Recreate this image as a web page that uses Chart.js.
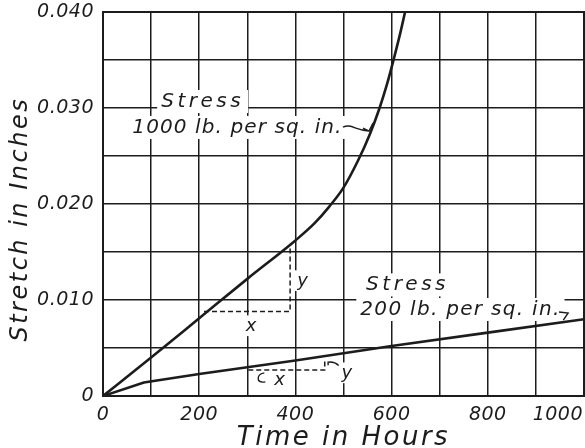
<!DOCTYPE html>
<html>
<head>
<meta charset="utf-8">
<script src="https://cdn.jsdelivr.net/npm/chart.js@4.4.1/dist/chart.umd.min.js"></script>
<style>
  html, body { margin: 0; background: #fff; }
  #wrap { width: 585px; height: 448px; }
</style>
</head>
<body>
<div id="wrap"><canvas id="mychart"></canvas></div>
<script>
// Stretch (inches) against time (hours)
var hours1000 = [0, 100, 200, 300, 400, 440, 470, 500, 530, 555, 575, 590, 605, 618, 628];
var stretch1000 = [0, 0.0040, 0.0081, 0.0122, 0.0162, 0.0180, 0.0197, 0.0217, 0.0245, 0.0273, 0.0300, 0.0324, 0.0352, 0.0378, 0.0400];
var hours200 = [0, 85, 200, 400, 600, 800, 1000];
var stretch200 = [0, 0.0014, 0.0023, 0.0037, 0.0052, 0.0066, 0.0080];

// dashed slope triangles (x leg then y leg)
var tri1000Hours = [210, 389, 389];
var tri1000Stretch = [0.0088, 0.0088, 0.0157];
var tri200Hours = [302, 461, 461];
var tri200Stretch = [0.0027, 0.0027, 0.0039];

var xTicks = [0, 200, 400, 600, 800, 1000];
var yTicks = [0, 0.010, 0.020, 0.030, 0.040];

var ink = '#1c1c1c';
var hand = "'DejaVu Sans', sans-serif";

function pts(xs, ys) {
  return xs.map(function (x, i) { return {x: x, y: ys[i]}; });
}

// handwritten notes on the plot, placed in data units
var notes = [
  {text: 'Stress', h: 121, s: 0.0301, ls: 3.5},
  {text: '1000 lb. per sq. in.', h: 61, s: 0.0274, ls: 1.1},
  {text: 'Stress', h: 547, s: 0.0110, ls: 3.5},
  {text: '200 lb. per sq. in.', h: 535, s: 0.00844, ls: 1.3},
  {text: 'x', h: 297, s: 0.0068, ls: 0, size: 18},
  {text: 'y', h: 404, s: 0.0115, ls: 0, size: 18},
  {text: 'x', h: 356, s: 0.0011, ls: 0, size: 18},
  {text: 'y', h: 496, s: 0.0019, ls: 0, size: 18}
];

var notesPlugin = {
  id: 'notes',
  // axis titles are drawn with the grid layer, tick labels after the datasets
  beforeDraw: function (chart) {
    chart.ctx.letterSpacing = '2.5px';
  },
  afterDatasetsDraw: function (chart) {
    chart.ctx.letterSpacing = '0.5px';
  },
  beforeDatasetsDraw: function (chart) {
    var ctx = chart.ctx, xs = chart.scales.x, ys = chart.scales.y, a = chart.chartArea;
    ctx.save();
    ctx.textBaseline = 'alphabetic';
    notes.forEach(function (n) {
      var size = n.size || 20;
      ctx.font = 'italic ' + size + 'px ' + hand;
      ctx.letterSpacing = n.ls + 'px';
      var px = xs.getPixelForValue(n.h), py = ys.getPixelForValue(n.s);
      var w = ctx.measureText(n.text).width;
      ctx.fillStyle = '#fff';
      ctx.fillRect(px - 4, py - size * 0.85, w + 8, size * 1.15);
      ctx.fillStyle = ink;
      ctx.fillText(n.text, px, py);
    });
    ctx.strokeStyle = ink;
    ctx.lineWidth = 1.4;
    function P(h, s) { return [xs.getPixelForValue(h), ys.getPixelForValue(s)]; }
    // leader from "1000 lb. per sq. in." to its curve
    var p0 = P(499, 0.0280), p1 = P(553, 0.0276);
    ctx.beginPath();
    ctx.moveTo(p0[0], p0[1]);
    ctx.bezierCurveTo(p0[0] + 8, p0[1] - 4, p0[0] + 12, p0[1] + 3, p1[0], p1[1]);
    ctx.moveTo(p1[0] - 6, p1[1] - 3);
    ctx.lineTo(p1[0], p1[1]);
    ctx.lineTo(p1[0] + 4, p1[1] - 8);
    ctx.stroke();
    // hook from "in." to the 200 lb line
    var q0 = P(948, 0.00875), q1 = P(967, 0.00865), q2 = P(957, 0.0079);
    ctx.beginPath();
    ctx.moveTo(q0[0], q0[1]);
    ctx.lineTo(q1[0], q1[1]);
    ctx.lineTo(q2[0], q2[1]);
    ctx.stroke();
    // small leaders on the lower triangle
    var r0 = P(468, 0.00352), r1 = P(490, 0.00318);
    ctx.beginPath();
    ctx.moveTo(r0[0], r0[1] + 3);
    ctx.lineTo(r0[0], r0[1]);
    ctx.quadraticCurveTo(r0[0] + 6, r0[1] - 1, r1[0], r1[1]);
    ctx.stroke();
    var e0 = P(325, 0.0021);
    ctx.beginPath();
    ctx.moveTo(e0[0] + 5, e0[1] - 3);
    ctx.quadraticCurveTo(e0[0] - 2, e0[1] - 2, e0[0] - 1, e0[1] + 4);
    ctx.quadraticCurveTo(e0[0], e0[1] + 7, e0[0] + 6, e0[1] + 6);
    ctx.stroke();
    // frame
    ctx.lineWidth = 2;
    ctx.strokeRect(a.left, a.top, a.right - a.left, a.bottom - a.top);
    ctx.restore();
  }
};

var ctx = document.getElementById('mychart');
var myChart = new Chart(ctx, {
  type: 'scatter',
  data: {
    datasets: [
      {label: '1000 lb. per sq. in.', data: pts(hours1000, stretch1000), showLine: true,
       borderColor: ink, borderWidth: 2.6, pointRadius: 0, cubicInterpolationMode: 'monotone'},
      {label: '200 lb. per sq. in.', data: pts(hours200, stretch200), showLine: true,
       borderColor: ink, borderWidth: 2.6, pointRadius: 0, tension: 0},
      {label: 'slope 1000', data: pts(tri1000Hours, tri1000Stretch), showLine: true,
       borderColor: ink, borderWidth: 1.5, borderDash: [5, 3], pointRadius: 0},
      {label: 'slope 200', data: pts(tri200Hours, tri200Stretch), showLine: true,
       borderColor: ink, borderWidth: 1.5, borderDash: [5, 3], pointRadius: 0}
    ]
  },
  options: {
    responsive: true,
    maintainAspectRatio: false,
    animation: false,
    layout: {padding: {top: 12, right: 1, left: 0, bottom: 0}},
    plugins: {legend: {display: false}, tooltip: {enabled: false}},
    scales: {
      x: {
        type: 'linear', min: 0, max: 1000,
        grid: {color: ink, lineWidth: 1.5, drawTicks: false},
        border: {color: ink, width: 2},
        ticks: {
          stepSize: 100, padding: 8, color: ink, maxRotation: 0, autoSkip: false, z: 1,
          font: {family: hand, size: 19, style: 'italic'},
          callback: function (v) {
            if (xTicks.indexOf(v) < 0) return '';
            return v === 1000 ? '1000        ' : String(v);
          }
        },
        title: {display: true, text: 'Time in Hours', color: ink,
                font: {family: hand, size: 26, style: 'italic', lineHeight: 1},
                padding: {top: 0, bottom: -3}},
        afterFit: function (s) { s.height = 52; s.paddingRight = 0; s.paddingLeft = 0; }
      },
      y: {
        type: 'linear', min: 0, max: 0.040,
        grid: {color: ink, lineWidth: 1.5, drawTicks: false},
        border: {color: ink, width: 2},
        ticks: {
          stepSize: 0.005, padding: 9, color: ink, autoSkip: false, z: 1,
          font: {family: hand, size: 19, style: 'italic'},
          callback: function (v) {
            for (var i = 0; i < yTicks.length; i++) {
              if (Math.abs(v - yTicks[i]) < 1e-6) return v === 0 ? '0' : yTicks[i].toFixed(3);
            }
            return '';
          }
        },
        title: {display: true, text: 'Stretch in Inches   ', color: ink,
                font: {family: hand, size: 24, style: 'italic', lineHeight: 1},
                padding: {top: 9, bottom: 0}},
        afterFit: function (s) { s.width = 103; s.paddingTop = 0; s.paddingBottom = 0; }
      }
    }
  },
  plugins: [notesPlugin]
});
</script>
</body>
</html>
